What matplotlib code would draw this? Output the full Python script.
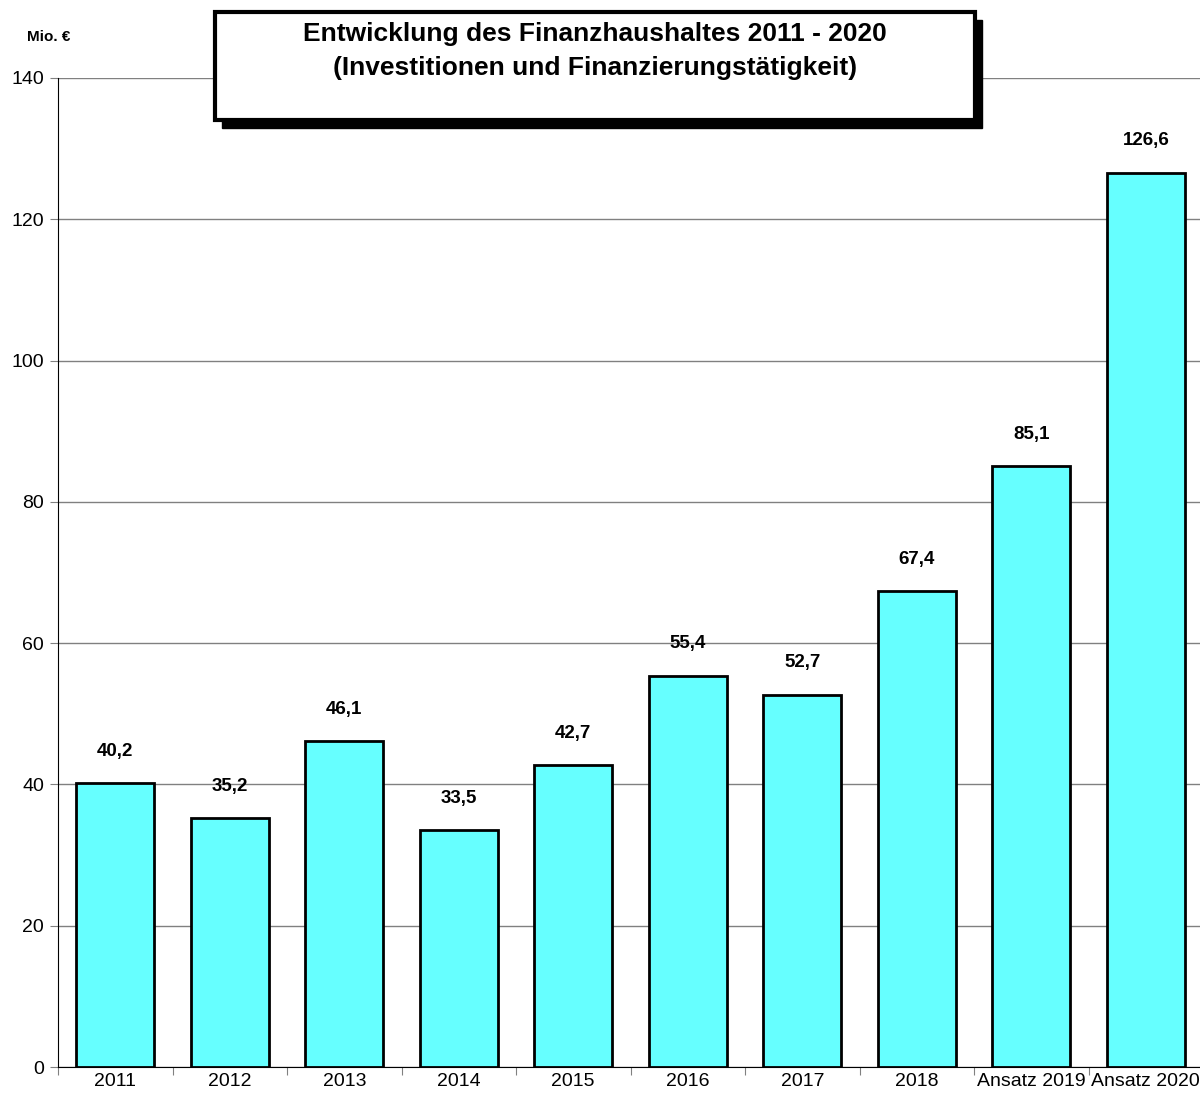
import numpy as np
import matplotlib.pyplot as plt
from matplotlib.patches import Rectangle

plt.rcParams['font.family'] = ['Liberation Sans', 'DejaVu Sans']

categories = ['2011', '2012', '2013', '2014', '2015', '2016', '2017', '2018',
              'Ansatz 2019', 'Ansatz 2020']
values = [40.2, 35.2, 46.1, 33.5, 42.7, 55.4, 52.7, 67.4, 85.1, 126.6]
value_labels = ['40,2', '35,2', '46,1', '33,5', '42,7', '55,4', '52,7', '67,4',
                '85,1', '126,6']
y_ticks = [0, 20, 40, 60, 80, 100, 120, 140]

fig = plt.figure(figsize=(12, 10.97), dpi=100)
ax = fig.add_axes([58 / 1200, 30 / 1097, 1145 / 1200, 989 / 1097])

x = np.arange(len(categories))
ax.bar(x, values, width=0.68, color='#66FFFF', edgecolor='black', linewidth=2, zorder=3)

# value labels above the bars
for xi, v, lab in zip(x, values, value_labels):
    ax.text(xi, v + 3.3, lab, ha='center', va='bottom', fontsize=13.5,
            fontweight='bold')

ax.set_xlim(-0.5, len(categories) - 0.5)
ax.set_ylim(0, 140)
ax.set_yticks(y_ticks)
ax.tick_params(axis='y', labelsize=14, length=6, direction='out', color='gray', pad=4)
ax.yaxis.grid(True, color='gray', linewidth=1)
ax.set_axisbelow(True)

# ticks between categories, labels at centres
ax.set_xticks(np.arange(len(categories) + 1) - 0.5)
ax.set_xticklabels([])
ax.tick_params(axis='x', which='major', length=6, color='gray')
ax.set_xticks(x, minor=True)
ax.set_xticklabels(categories, minor=True, fontsize=14)
ax.tick_params(axis='x', which='minor', length=0, pad=4)

for s in ['top', 'right']:
    ax.spines[s].set_visible(False)

fig.text(27 / 1200, 1 - 37 / 1097, 'Mio. €', fontsize=11, fontweight='bold',
         va='center', ha='left')

# title box with shadow
bx, by, bw, bh = 215, 12, 760, 108
fig.patches.append(Rectangle(((bx + 7) / 1200, 1 - (by + bh + 8) / 1097),
                             bw / 1200, bh / 1097, transform=fig.transFigure,
                             facecolor='black', edgecolor='black', zorder=5))
fig.patches.append(Rectangle((bx / 1200, 1 - (by + bh) / 1097), bw / 1200, bh / 1097,
                             transform=fig.transFigure, facecolor='white',
                             edgecolor='black', linewidth=3, zorder=6))
fig.text((bx + bw / 2) / 1200, 1 - 51 / 1097,
         'Entwicklung des Finanzhaushaltes 2011 - 2020\n(Investitionen und Finanzierungstätigkeit)',
         ha='center', va='center', fontsize=19, fontweight='bold', linespacing=1.55,
         zorder=7)

fig.savefig('out.png', dpi=100)
